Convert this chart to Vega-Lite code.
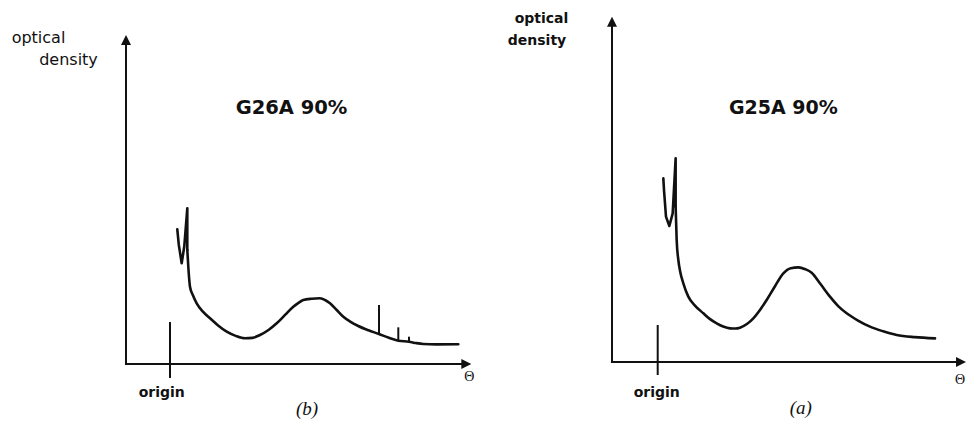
{
  "$schema": "https://vega.github.io/schema/vega-lite/v6.json",
  "padding": 0,
  "spacing": 0,
  "bounds": "flush",
  "background": "white",
  "config": {"view": {"stroke": null}},
  "datasets": {
    "frame": [
      {"panel": "b", "part": "yaxis", "t": 0, "d": -0.3, "t2": 0, "d2": 99.5},
      {"panel": "b", "part": "xaxis", "t": -0.3, "d": 0, "t2": 98.5, "d2": 0},
      {"panel": "b", "part": "origin", "t": 12.75, "d": -4.28, "t2": 12.75, "d2": 12.84},
      {"panel": "b", "part": "spike", "t": 73.33, "d": 9.3, "t2": 73.33, "d2": 18.04},
      {"panel": "b", "part": "spike", "t": 78.93, "d": 7.2, "t2": 78.93, "d2": 11.22},
      {"panel": "b", "part": "spike", "t": 82.03, "d": 6.9, "t2": 82.03, "d2": 8.35},
      {"panel": "a", "part": "yaxis", "t": 0, "d": -0.3, "t2": 0, "d2": 99},
      {"panel": "a", "part": "xaxis", "t": -0.3, "d": 0, "t2": 98.5, "d2": 0},
      {"panel": "a", "part": "origin", "t": 12.91, "d": -3.77, "t2": 12.91, "d2": 10.72}
    ],
    "arrows": [
      {"panel": "b", "dir": "up", "t": 0, "d": 100.6},
      {"panel": "b", "dir": "right", "t": 100.1, "d": 0},
      {"panel": "a", "dir": "up", "t": 0, "d": 100.1},
      {"panel": "a", "dir": "right", "t": 100, "d": 0}
    ],
    "curveB": [
      {"seg": "head", "i": 1, "t": 14.87, "d": 41.19},
      {"seg": "head", "i": 2, "t": 15.3, "d": 36.5},
      {"seg": "head", "i": 3, "t": 16.14, "d": 30.8},
      {"seg": "head", "i": 4, "t": 16.9, "d": 36.0},
      {"seg": "head", "i": 5, "t": 17.77, "d": 47.61},
      {"seg": "head", "i": 6, "t": 17.77, "d": 34.86},
      {"seg": "body", "i": 7, "t": 17.77, "d": 34.86},
      {"seg": "body", "i": 8, "t": 18.12, "d": 28.75},
      {"seg": "body", "i": 9, "t": 18.55, "d": 23.64},
      {"seg": "body", "i": 10, "t": 19.4, "d": 21.0},
      {"seg": "body", "i": 11, "t": 20.49, "d": 18.56},
      {"seg": "body", "i": 12, "t": 22.3, "d": 16.0},
      {"seg": "body", "i": 13, "t": 24.35, "d": 13.98},
      {"seg": "body", "i": 14, "t": 26.7, "d": 11.8},
      {"seg": "body", "i": 15, "t": 29.19, "d": 9.88},
      {"seg": "body", "i": 16, "t": 31.8, "d": 8.6},
      {"seg": "body", "i": 17, "t": 34.49, "d": 7.86},
      {"seg": "body", "i": 18, "t": 36.7, "d": 8.0},
      {"seg": "body", "i": 19, "t": 38.84, "d": 8.87},
      {"seg": "body", "i": 20, "t": 41.3, "d": 10.4},
      {"seg": "body", "i": 21, "t": 43.68, "d": 12.45},
      {"seg": "body", "i": 22, "t": 46.1, "d": 15.0},
      {"seg": "body", "i": 23, "t": 48.49, "d": 17.52},
      {"seg": "body", "i": 24, "t": 50.0, "d": 18.7},
      {"seg": "body", "i": 25, "t": 51.39, "d": 19.57},
      {"seg": "body", "i": 26, "t": 53.8, "d": 19.95},
      {"seg": "body", "i": 27, "t": 56.23, "d": 20.09},
      {"seg": "body", "i": 28, "t": 57.8, "d": 19.5},
      {"seg": "body", "i": 29, "t": 59.13, "d": 18.56},
      {"seg": "body", "i": 30, "t": 61.0, "d": 16.6},
      {"seg": "body", "i": 31, "t": 62.99, "d": 14.46},
      {"seg": "body", "i": 32, "t": 65.1, "d": 12.9},
      {"seg": "body", "i": 33, "t": 67.33, "d": 11.62},
      {"seg": "body", "i": 34, "t": 70.3, "d": 10.3},
      {"seg": "body", "i": 35, "t": 73.33, "d": 9.17},
      {"seg": "body", "i": 36, "t": 76.2, "d": 8.0},
      {"seg": "body", "i": 37, "t": 78.93, "d": 7.13},
      {"seg": "body", "i": 38, "t": 82.03, "d": 6.82},
      {"seg": "body", "i": 39, "t": 84.1, "d": 6.4},
      {"seg": "body", "i": 40, "t": 86.17, "d": 6.12},
      {"seg": "body", "i": 41, "t": 90.0, "d": 6.0},
      {"seg": "body", "i": 42, "t": 96.32, "d": 6.02}
    ],
    "curveA": [
      {"seg": "head", "i": 1, "t": 14.5, "d": 53.24},
      {"seg": "head", "i": 2, "t": 14.69, "d": 49.86},
      {"seg": "head", "i": 3, "t": 15.25, "d": 42.13},
      {"seg": "head", "i": 4, "t": 16.2, "d": 39.42},
      {"seg": "head", "i": 5, "t": 17.14, "d": 43.09},
      {"seg": "head", "i": 6, "t": 17.98, "d": 59.03},
      {"seg": "head", "i": 7, "t": 17.98, "d": 45.02},
      {"seg": "body", "i": 8, "t": 17.98, "d": 45.02},
      {"seg": "body", "i": 9, "t": 18.27, "d": 35.36},
      {"seg": "body", "i": 10, "t": 18.74, "d": 29.57},
      {"seg": "body", "i": 11, "t": 19.3, "d": 26.0},
      {"seg": "body", "i": 12, "t": 20.15, "d": 22.8},
      {"seg": "body", "i": 13, "t": 21.56, "d": 18.94},
      {"seg": "body", "i": 14, "t": 23.5, "d": 16.3},
      {"seg": "body", "i": 15, "t": 25.8, "d": 14.11},
      {"seg": "body", "i": 16, "t": 27.6, "d": 12.5},
      {"seg": "body", "i": 17, "t": 29.57, "d": 11.21},
      {"seg": "body", "i": 18, "t": 31.4, "d": 10.3},
      {"seg": "body", "i": 19, "t": 33.33, "d": 9.76},
      {"seg": "body", "i": 20, "t": 34.8, "d": 9.7},
      {"seg": "body", "i": 21, "t": 36.16, "d": 9.95},
      {"seg": "body", "i": 22, "t": 38.1, "d": 11.0},
      {"seg": "body", "i": 23, "t": 39.92, "d": 12.66},
      {"seg": "body", "i": 24, "t": 41.8, "d": 15.1},
      {"seg": "body", "i": 25, "t": 43.69, "d": 17.97},
      {"seg": "body", "i": 26, "t": 46.0, "d": 21.9},
      {"seg": "body", "i": 27, "t": 48.4, "d": 25.7},
      {"seg": "body", "i": 28, "t": 50.5, "d": 27.2},
      {"seg": "body", "i": 29, "t": 52.64, "d": 27.44},
      {"seg": "body", "i": 30, "t": 54.6, "d": 26.9},
      {"seg": "body", "i": 31, "t": 56.4, "d": 25.89},
      {"seg": "body", "i": 32, "t": 58.9, "d": 22.6},
      {"seg": "body", "i": 33, "t": 61.58, "d": 18.94},
      {"seg": "body", "i": 34, "t": 63.9, "d": 16.2},
      {"seg": "body", "i": 35, "t": 66.29, "d": 14.11},
      {"seg": "body", "i": 36, "t": 69.5, "d": 12.0},
      {"seg": "body", "i": 37, "t": 72.88, "d": 10.24},
      {"seg": "body", "i": 38, "t": 76.6, "d": 8.9},
      {"seg": "body", "i": 39, "t": 80.41, "d": 7.83},
      {"seg": "body", "i": 40, "t": 85.5, "d": 7.2},
      {"seg": "body", "i": 41, "t": 91.24, "d": 6.86}
    ],
    "labels": [
      {"panel": "b", "kind": "title", "label": "G26A 90%", "t": 47.97, "d": 78.2},
      {"panel": "b", "kind": "ylabel", "label": "optical", "t": -25.36, "d": 98.26},
      {"panel": "b", "kind": "ylabel", "label": "density", "t": -16.67, "d": 91.44},
      {"panel": "b", "kind": "origin", "label": "origin", "t": 10.35, "d": -10.0},
      {"panel": "b", "kind": "theta", "label": "Θ", "t": 99.5, "d": -4.07},
      {"panel": "b", "kind": "tag", "label": "(b)", "t": 52.46, "d": -13.76},
      {"panel": "a", "kind": "title", "label": "G25A 90%", "t": 48.39, "d": 73.54},
      {"panel": "a", "kind": "ylabel", "label": "optical", "t": -19.92, "d": 98.26},
      {"panel": "a", "kind": "ylabel", "label": "density", "t": -21.19, "d": 91.88},
      {"panel": "a", "kind": "origin", "label": "origin", "t": 12.63, "d": -10.23},
      {"panel": "a", "kind": "theta", "label": "Θ", "t": 98.3, "d": -5.2},
      {"panel": "a", "kind": "tag", "label": "(a)", "t": 53.33, "d": -13.33}
    ]
  },
  "hconcat": [
    {
      "width": 483,
      "height": 421,
      "encoding": {
        "x": {"field": "t", "type": "quantitative", "scale": {"domain": [-36.52, 103.48], "nice": false, "zero": false}, "axis": null},
        "y": {"field": "d", "type": "quantitative", "scale": {"domain": [-17.43, 111.31], "nice": false, "zero": false}, "axis": null}
      },
      "layer": [
        {"data": {"name": "frame"}, "transform": [{"filter": "datum.panel === 'b' && datum.part !== 'spike'"}],
         "mark": {"type": "rule", "strokeWidth": 2, "color": "#111"},
         "encoding": {"x2": {"field": "t2"}, "y2": {"field": "d2"}}},
        {"data": {"name": "frame"}, "transform": [{"filter": "datum.panel === 'b' && datum.part === 'spike'"}],
         "mark": {"type": "rule", "strokeWidth": 2, "color": "#111"},
         "encoding": {"x2": {"field": "t2"}, "y2": {"field": "d2"}}},
        {"data": {"name": "arrows"}, "transform": [{"filter": "datum.panel === 'b' && datum.dir === 'up'"}],
         "mark": {"type": "point", "shape": "M0,0L1,2L-1,2Z", "size": 100, "filled": true, "opacity": 1, "color": "#111"}},
        {"data": {"name": "arrows"}, "transform": [{"filter": "datum.panel === 'b' && datum.dir === 'right'"}],
         "mark": {"type": "point", "shape": "M0,0L-2,-1L-2,1Z", "size": 100, "filled": true, "opacity": 1, "color": "#111"}},
        {"data": {"name": "curveB"}, "transform": [{"filter": "datum.seg === 'head'"}],
         "mark": {"type": "line", "strokeWidth": 2.6, "color": "#111", "strokeJoin": "round", "strokeCap": "round"},
         "encoding": {"order": {"field": "i", "type": "quantitative"}}},
        {"data": {"name": "curveB"}, "transform": [{"filter": "datum.seg === 'body'"}],
         "mark": {"type": "line", "strokeWidth": 2.6, "color": "#111", "interpolate": "monotone", "strokeJoin": "round", "strokeCap": "round"},
         "encoding": {"order": {"field": "i", "type": "quantitative"}}},
        {"data": {"name": "labels"}, "transform": [{"filter": "datum.panel === 'b' && datum.kind === 'title'"}],
         "mark": {"type": "text", "font": "DejaVu Sans", "fontWeight": "bold", "fontSize": 19.5, "align": "center", "baseline": "middle", "color": "#111"},
         "encoding": {"text": {"field": "label"}}},
        {"data": {"name": "labels"}, "transform": [{"filter": "datum.panel === 'b' && datum.kind === 'ylabel'"}],
         "mark": {"type": "text", "font": "DejaVu Sans", "fontSize": 16, "align": "center", "baseline": "alphabetic", "color": "#111"},
         "encoding": {"text": {"field": "label"}}},
        {"data": {"name": "labels"}, "transform": [{"filter": "datum.panel === 'b' && datum.kind === 'origin'"}],
         "mark": {"type": "text", "font": "DejaVu Sans", "fontWeight": "bold", "fontSize": 14, "align": "center", "baseline": "alphabetic", "color": "#111"},
         "encoding": {"text": {"field": "label"}}},
        {"data": {"name": "labels"}, "transform": [{"filter": "datum.panel === 'b' && datum.kind === 'theta'"}],
         "mark": {"type": "text", "font": "Liberation Serif", "fontSize": 14, "align": "center", "baseline": "middle", "color": "#111"},
         "encoding": {"text": {"field": "label"}}},
        {"data": {"name": "labels"}, "transform": [{"filter": "datum.panel === 'b' && datum.kind === 'tag'"}],
         "mark": {"type": "text", "font": "Liberation Serif", "fontStyle": "italic", "fontSize": 19, "align": "center", "baseline": "middle", "color": "#111"},
         "encoding": {"text": {"field": "label"}}}
      ]
    },
    {
      "width": 483,
      "height": 421,
      "encoding": {
        "x": {"field": "t", "type": "quantitative", "scale": {"domain": [-36.44, 100], "nice": false, "zero": false}, "axis": null},
        "y": {"field": "d", "type": "quantitative", "scale": {"domain": [-17.1, 104.93], "nice": false, "zero": false}, "axis": null}
      },
      "layer": [
        {"data": {"name": "frame"}, "transform": [{"filter": "datum.panel === 'a'"}],
         "mark": {"type": "rule", "strokeWidth": 2, "color": "#111"},
         "encoding": {"x2": {"field": "t2"}, "y2": {"field": "d2"}}},
        {"data": {"name": "arrows"}, "transform": [{"filter": "datum.panel === 'a' && datum.dir === 'up'"}],
         "mark": {"type": "point", "shape": "M0,0L1,2L-1,2Z", "size": 100, "filled": true, "opacity": 1, "color": "#111"}},
        {"data": {"name": "arrows"}, "transform": [{"filter": "datum.panel === 'a' && datum.dir === 'right'"}],
         "mark": {"type": "point", "shape": "M0,0L-2,-1L-2,1Z", "size": 100, "filled": true, "opacity": 1, "color": "#111"}},
        {"data": {"name": "curveA"}, "transform": [{"filter": "datum.seg === 'head'"}],
         "mark": {"type": "line", "strokeWidth": 2.6, "color": "#111", "strokeJoin": "round", "strokeCap": "round"},
         "encoding": {"order": {"field": "i", "type": "quantitative"}}},
        {"data": {"name": "curveA"}, "transform": [{"filter": "datum.seg === 'body'"}],
         "mark": {"type": "line", "strokeWidth": 2.6, "color": "#111", "interpolate": "monotone", "strokeJoin": "round", "strokeCap": "round"},
         "encoding": {"order": {"field": "i", "type": "quantitative"}}},
        {"data": {"name": "labels"}, "transform": [{"filter": "datum.panel === 'a' && datum.kind === 'title'"}],
         "mark": {"type": "text", "font": "DejaVu Sans", "fontWeight": "bold", "fontSize": 19, "align": "center", "baseline": "middle", "color": "#111"},
         "encoding": {"text": {"field": "label"}}},
        {"data": {"name": "labels"}, "transform": [{"filter": "datum.panel === 'a' && datum.kind === 'ylabel'"}],
         "mark": {"type": "text", "font": "DejaVu Sans", "fontWeight": "bold", "fontSize": 14, "align": "center", "baseline": "alphabetic", "color": "#111"},
         "encoding": {"text": {"field": "label"}}},
        {"data": {"name": "labels"}, "transform": [{"filter": "datum.panel === 'a' && datum.kind === 'origin'"}],
         "mark": {"type": "text", "font": "DejaVu Sans", "fontWeight": "bold", "fontSize": 14, "align": "center", "baseline": "alphabetic", "color": "#111"},
         "encoding": {"text": {"field": "label"}}},
        {"data": {"name": "labels"}, "transform": [{"filter": "datum.panel === 'a' && datum.kind === 'theta'"}],
         "mark": {"type": "text", "font": "Liberation Serif", "fontSize": 14, "align": "center", "baseline": "middle", "color": "#111"},
         "encoding": {"text": {"field": "label"}}},
        {"data": {"name": "labels"}, "transform": [{"filter": "datum.panel === 'a' && datum.kind === 'tag'"}],
         "mark": {"type": "text", "font": "Liberation Serif", "fontStyle": "italic", "fontSize": 19, "align": "center", "baseline": "middle", "color": "#111"},
         "encoding": {"text": {"field": "label"}}}
      ]
    }
  ]
}
